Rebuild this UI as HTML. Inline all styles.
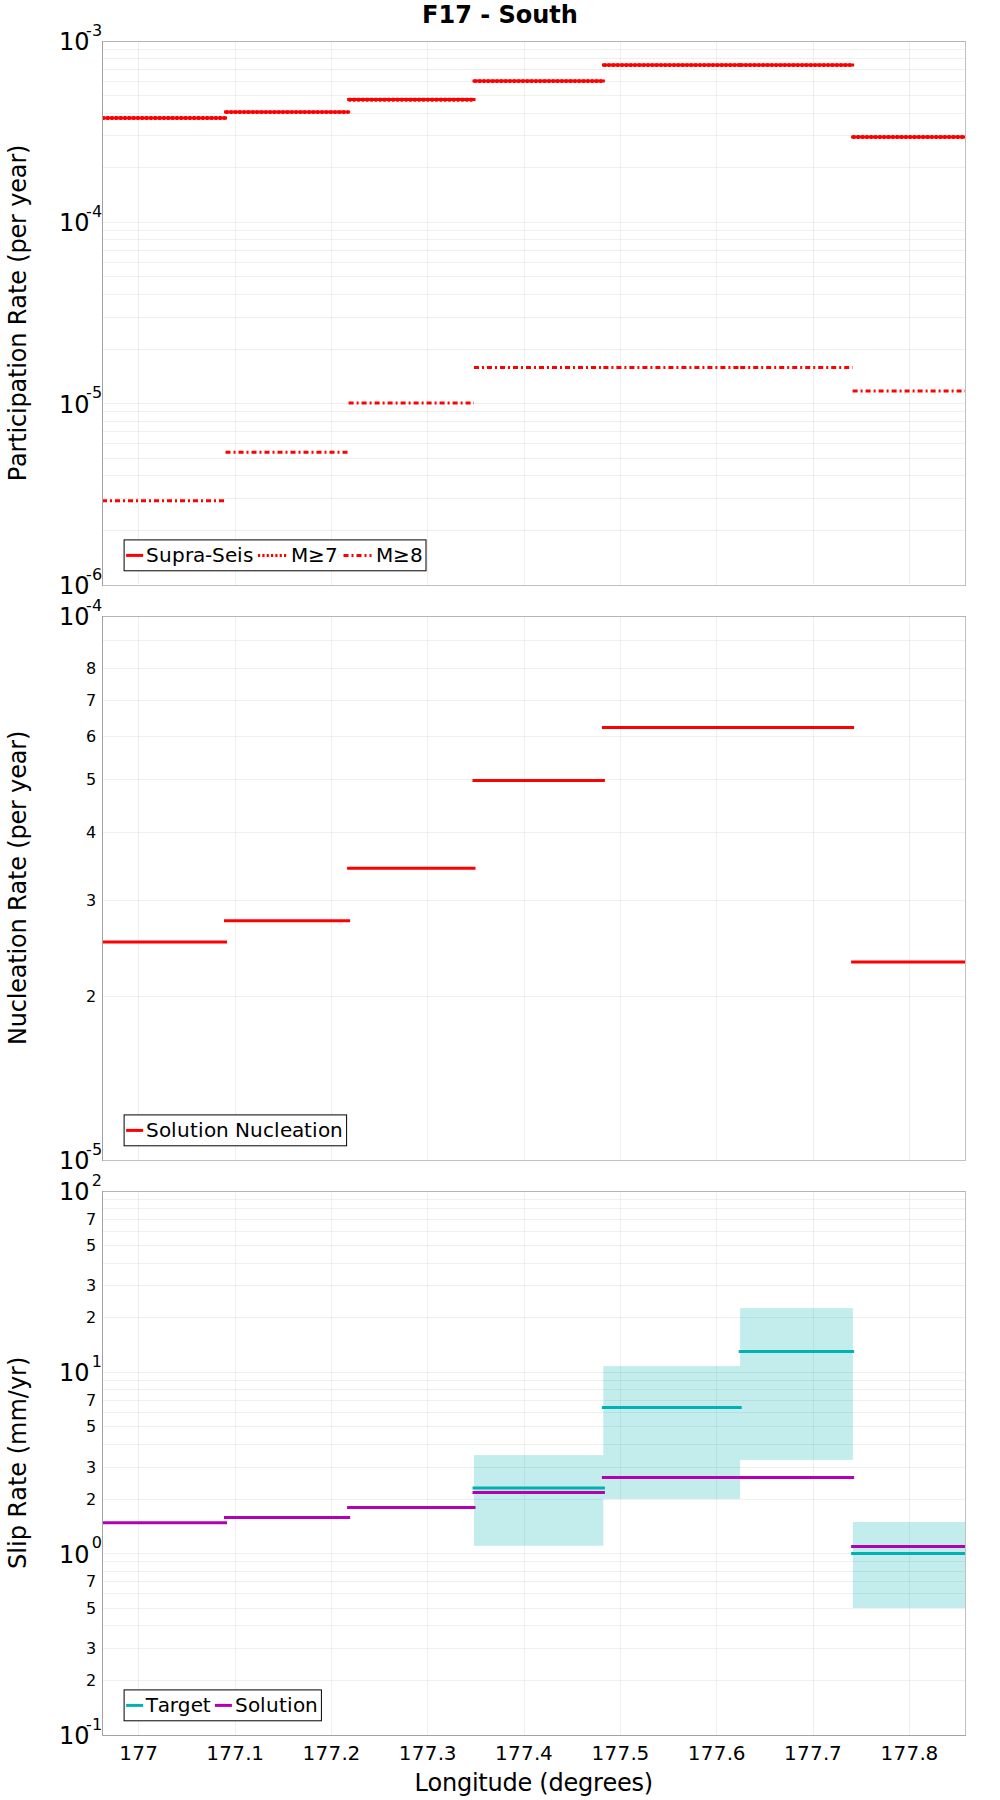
<!DOCTYPE html>
<html lang="en"><head><meta charset="utf-8"><title>F17 - South</title>
<style>html,body{margin:0;padding:0;background:#fff}svg{display:block}text{font-family:"DejaVu Sans","Liberation Sans",sans-serif;fill:#000;font-kerning:none}.g{stroke:#000;stroke-opacity:.062;stroke-width:1;shape-rendering:crispEdges}.b{stroke:#c0c0c0;stroke-width:1;fill:none;shape-rendering:crispEdges}.ax{stroke:#a2a2a2;stroke-width:1;shape-rendering:crispEdges}.t16{font-size:16px;text-anchor:end}.t24{font-size:24px}.t20{font-size:20px}.sup{font-size:16px}</style></head><body>
<svg width="1000" height="1800" viewBox="0 0 1000 1800">
<rect width="1000" height="1800" fill="#fff"/>
<text x="500" y="23" text-anchor="middle" style="font-size:24px;font-weight:bold">F17 - South</text>
<clipPath id="c0"><rect x="102.0" y="41" width="864.0" height="545"/></clipPath>
<g class="g">
<line x1="138.5" y1="42" x2="138.5" y2="585"/>
<line x1="235.5" y1="42" x2="235.5" y2="585"/>
<line x1="331.5" y1="42" x2="331.5" y2="585"/>
<line x1="427.5" y1="42" x2="427.5" y2="585"/>
<line x1="524.5" y1="42" x2="524.5" y2="585"/>
<line x1="620.5" y1="42" x2="620.5" y2="585"/>
<line x1="716.5" y1="42" x2="716.5" y2="585"/>
<line x1="813.5" y1="42" x2="813.5" y2="585"/>
<line x1="909.5" y1="42" x2="909.5" y2="585"/>
<line x1="103.0" y1="530.5" x2="965.0" y2="530.5"/>
<line x1="103.0" y1="498.5" x2="965.0" y2="498.5"/>
<line x1="103.0" y1="475.5" x2="965.0" y2="475.5"/>
<line x1="103.0" y1="458.5" x2="965.0" y2="458.5"/>
<line x1="103.0" y1="443.5" x2="965.0" y2="443.5"/>
<line x1="103.0" y1="431.5" x2="965.0" y2="431.5"/>
<line x1="103.0" y1="421.5" x2="965.0" y2="421.5"/>
<line x1="103.0" y1="411.5" x2="965.0" y2="411.5"/>
<line x1="103.0" y1="403.5" x2="965.0" y2="403.5"/>
<line x1="103.0" y1="349.5" x2="965.0" y2="349.5"/>
<line x1="103.0" y1="317.5" x2="965.0" y2="317.5"/>
<line x1="103.0" y1="294.5" x2="965.0" y2="294.5"/>
<line x1="103.0" y1="276.5" x2="965.0" y2="276.5"/>
<line x1="103.0" y1="262.5" x2="965.0" y2="262.5"/>
<line x1="103.0" y1="250.5" x2="965.0" y2="250.5"/>
<line x1="103.0" y1="239.5" x2="965.0" y2="239.5"/>
<line x1="103.0" y1="230.5" x2="965.0" y2="230.5"/>
<line x1="103.0" y1="222.5" x2="965.0" y2="222.5"/>
<line x1="103.0" y1="167.5" x2="965.0" y2="167.5"/>
<line x1="103.0" y1="135.5" x2="965.0" y2="135.5"/>
<line x1="103.0" y1="113.5" x2="965.0" y2="113.5"/>
<line x1="103.0" y1="95.5" x2="965.0" y2="95.5"/>
<line x1="103.0" y1="81.5" x2="965.0" y2="81.5"/>
<line x1="103.0" y1="69.5" x2="965.0" y2="69.5"/>
<line x1="103.0" y1="58.5" x2="965.0" y2="58.5"/>
<line x1="103.0" y1="49.5" x2="965.0" y2="49.5"/>
</g>
<g clip-path="url(#c0)">
<line x1="102.0" y1="117.9" x2="225.5" y2="117.9" stroke="#ff0000" stroke-width="3" stroke-linecap="square"/>
<line x1="225.5" y1="112.0" x2="348.6" y2="112.0" stroke="#ff0000" stroke-width="3" stroke-linecap="square"/>
<line x1="348.6" y1="99.6" x2="474.0" y2="99.6" stroke="#ff0000" stroke-width="3" stroke-linecap="square"/>
<line x1="474.0" y1="81.0" x2="603.4" y2="81.0" stroke="#ff0000" stroke-width="3" stroke-linecap="square"/>
<line x1="603.4" y1="65.0" x2="740.2" y2="65.0" stroke="#ff0000" stroke-width="3" stroke-linecap="square"/>
<line x1="740.2" y1="65.0" x2="852.6" y2="65.0" stroke="#ff0000" stroke-width="3" stroke-linecap="square"/>
<line x1="852.6" y1="136.9" x2="965.0" y2="136.9" stroke="#ff0000" stroke-width="3" stroke-linecap="square"/>
<line x1="102.0" y1="118.05000000000001" x2="225.5" y2="118.05000000000001" stroke="#ff0000" stroke-width="3.9" stroke-linecap="butt" stroke-dasharray="2.6 1.73"/>
<line x1="225.5" y1="112.15" x2="348.6" y2="112.15" stroke="#ff0000" stroke-width="3.9" stroke-linecap="butt" stroke-dasharray="2.6 1.73"/>
<line x1="348.6" y1="99.75" x2="474.0" y2="99.75" stroke="#ff0000" stroke-width="3.9" stroke-linecap="butt" stroke-dasharray="2.6 1.73"/>
<line x1="474.0" y1="81.15" x2="603.4" y2="81.15" stroke="#ff0000" stroke-width="3.9" stroke-linecap="butt" stroke-dasharray="2.6 1.73"/>
<line x1="603.4" y1="65.15" x2="740.2" y2="65.15" stroke="#ff0000" stroke-width="3.9" stroke-linecap="butt" stroke-dasharray="2.6 1.73"/>
<line x1="740.2" y1="65.15" x2="852.6" y2="65.15" stroke="#ff0000" stroke-width="3.9" stroke-linecap="butt" stroke-dasharray="2.6 1.73"/>
<line x1="852.6" y1="137.05" x2="965.0" y2="137.05" stroke="#ff0000" stroke-width="3.9" stroke-linecap="butt" stroke-dasharray="2.6 1.73"/>
<line x1="102.0" y1="500.7" x2="225.5" y2="500.7" stroke="#ff0000" stroke-width="3" stroke-linecap="butt" stroke-dasharray="5 3 2 3"/>
<line x1="225.5" y1="452.3" x2="348.6" y2="452.3" stroke="#ff0000" stroke-width="3" stroke-linecap="butt" stroke-dasharray="5 3 2 3"/>
<line x1="348.6" y1="402.9" x2="474.0" y2="402.9" stroke="#ff0000" stroke-width="3" stroke-linecap="butt" stroke-dasharray="5 3 2 3"/>
<line x1="474.0" y1="367.5" x2="603.4" y2="367.5" stroke="#ff0000" stroke-width="3" stroke-linecap="butt" stroke-dasharray="5 3 2 3"/>
<line x1="603.4" y1="367.5" x2="740.2" y2="367.5" stroke="#ff0000" stroke-width="3" stroke-linecap="butt" stroke-dasharray="5 3 2 3"/>
<line x1="740.2" y1="367.5" x2="852.6" y2="367.5" stroke="#ff0000" stroke-width="3" stroke-linecap="butt" stroke-dasharray="5 3 2 3"/>
<line x1="852.6" y1="391.0" x2="965.0" y2="391.0" stroke="#ff0000" stroke-width="3" stroke-linecap="butt" stroke-dasharray="5 3 2 3"/>
</g>
<rect class="b" x="102.5" y="41.5" width="863.0" height="544"/>
<line class="g" x1="103.0" y1="41.5" x2="966.0" y2="41.5"/>
<line class="ax" x1="102.5" y1="41" x2="102.5" y2="586"/>
<text class="t24" x="59.1" y="594.0">10</text>
<text class="sup" x="86.1 92.1" y="580.2">-6</text>
<text class="t24" x="59.1" y="413.0">10</text>
<text class="sup" x="86.1 92.1" y="397.8">-5</text>
<text class="t24" x="59.1" y="231.0">10</text>
<text class="sup" x="86.1 92.1" y="216.8">-4</text>
<text class="t24" x="59.1" y="50.0">10</text>
<text class="sup" x="86.1 92.1" y="36.2">-3</text>
<rect x="123.6" y="539.4" width="302.9" height="31.899999999999977" fill="#fff" fill-opacity=".9"/>
<rect x="124.1" y="539.9" width="301.9" height="30.899999999999977" fill="none" stroke="#000" stroke-width="1"/>
<line x1="127.6" y1="555.4" x2="141.6" y2="555.4" stroke="#ff0000" stroke-width="3" stroke-linecap="square"/>
<text class="t20" x="145.9 158.9 171.9 184.9 192.9 204.9 211.9 224.9 236.9 242.9" y="561.6">Supra-Seis</text>
<line x1="258" y1="555.4" x2="286.3" y2="555.4" stroke="#ff0000" stroke-width="3" stroke-dasharray="2.2 2.13"/>
<text class="t20" x="290.9 307.9 324.9" y="561.6">M≥7</text>
<line x1="343.5" y1="555.4" x2="371.5" y2="555.4" stroke="#ff0000" stroke-width="3" stroke-dasharray="5 3 2 3"/>
<text class="t20" x="376 393 410" y="561.6">M≥8</text>
<text class="t24" text-anchor="middle" transform="translate(26.1,313) rotate(-90)" style="letter-spacing:-0.168px">Participation Rate (per year)</text>
<clipPath id="c1"><rect x="102.0" y="616" width="864.0" height="545"/></clipPath>
<g class="g">
<line x1="138.5" y1="617" x2="138.5" y2="1160"/>
<line x1="235.5" y1="617" x2="235.5" y2="1160"/>
<line x1="331.5" y1="617" x2="331.5" y2="1160"/>
<line x1="427.5" y1="617" x2="427.5" y2="1160"/>
<line x1="524.5" y1="617" x2="524.5" y2="1160"/>
<line x1="620.5" y1="617" x2="620.5" y2="1160"/>
<line x1="716.5" y1="617" x2="716.5" y2="1160"/>
<line x1="813.5" y1="617" x2="813.5" y2="1160"/>
<line x1="909.5" y1="617" x2="909.5" y2="1160"/>
<line x1="103.0" y1="996.5" x2="965.0" y2="996.5"/>
<line x1="103.0" y1="900.5" x2="965.0" y2="900.5"/>
<line x1="103.0" y1="832.5" x2="965.0" y2="832.5"/>
<line x1="103.0" y1="779.5" x2="965.0" y2="779.5"/>
<line x1="103.0" y1="736.5" x2="965.0" y2="736.5"/>
<line x1="103.0" y1="700.5" x2="965.0" y2="700.5"/>
<line x1="103.0" y1="668.5" x2="965.0" y2="668.5"/>
<line x1="103.0" y1="640.5" x2="965.0" y2="640.5"/>
</g>
<g clip-path="url(#c1)">
<line x1="102.0" y1="941.9" x2="225.5" y2="941.9" stroke="#ff0000" stroke-width="3" stroke-linecap="square"/>
<line x1="225.5" y1="920.85" x2="348.6" y2="920.85" stroke="#ff0000" stroke-width="3" stroke-linecap="square"/>
<line x1="348.6" y1="868.3" x2="474.0" y2="868.3" stroke="#ff0000" stroke-width="3" stroke-linecap="square"/>
<line x1="474.0" y1="780.5" x2="603.4" y2="780.5" stroke="#ff0000" stroke-width="3" stroke-linecap="square"/>
<line x1="603.4" y1="727.5" x2="740.2" y2="727.5" stroke="#ff0000" stroke-width="3" stroke-linecap="square"/>
<line x1="740.2" y1="727.5" x2="852.6" y2="727.5" stroke="#ff0000" stroke-width="3" stroke-linecap="square"/>
<line x1="852.6" y1="962.0" x2="965.0" y2="962.0" stroke="#ff0000" stroke-width="3" stroke-linecap="square"/>
</g>
<rect class="b" x="102.5" y="616.5" width="863.0" height="544"/>
<line class="g" x1="103.0" y1="616.5" x2="966.0" y2="616.5"/>
<line class="ax" x1="102.5" y1="616" x2="102.5" y2="1161"/>
<text class="t24" x="59.1" y="1169.0">10</text>
<text class="sup" x="86.1 92.1" y="1155.2">-5</text>
<text class="t16" x="96.2" y="1002.4">2</text>
<text class="t16" x="96.2" y="906.4">3</text>
<text class="t16" x="96.2" y="838.4">4</text>
<text class="t16" x="96.2" y="785.4">5</text>
<text class="t16" x="96.2" y="742.4">6</text>
<text class="t16" x="96.2" y="706.4">7</text>
<text class="t16" x="96.2" y="674.4">8</text>
<text class="t24" x="59.1" y="625.0">10</text>
<text class="sup" x="86.1 92.1" y="611.2">-4</text>
<rect x="123.6" y="1114.4" width="223.50000000000003" height="31.899999999999864" fill="#fff" fill-opacity=".9"/>
<rect x="124.1" y="1114.9" width="222.50000000000003" height="30.899999999999864" fill="none" stroke="#000" stroke-width="1"/>
<line x1="127.6" y1="1130.4" x2="141.6" y2="1130.4" stroke="#ff0000" stroke-width="3" stroke-linecap="square"/>
<text class="t20" x="145.9 158.9 170.9 176.9 189.9 197.9 203.9 215.9 228.9 234.9 249.9 262.9 273.9 279.9 291.9 303.9 311.9 317.9 329.9" y="1136.6">Solution Nucleation</text>
<text class="t24" text-anchor="middle" transform="translate(26.1,888) rotate(-90)" style="letter-spacing:-0.188px">Nucleation Rate (per year)</text>
<clipPath id="c2"><rect x="102.0" y="1191" width="864.0" height="545"/></clipPath>
<g class="g">
<line x1="138.5" y1="1192" x2="138.5" y2="1735"/>
<line x1="235.5" y1="1192" x2="235.5" y2="1735"/>
<line x1="331.5" y1="1192" x2="331.5" y2="1735"/>
<line x1="427.5" y1="1192" x2="427.5" y2="1735"/>
<line x1="524.5" y1="1192" x2="524.5" y2="1735"/>
<line x1="620.5" y1="1192" x2="620.5" y2="1735"/>
<line x1="716.5" y1="1192" x2="716.5" y2="1735"/>
<line x1="813.5" y1="1192" x2="813.5" y2="1735"/>
<line x1="909.5" y1="1192" x2="909.5" y2="1735"/>
<line x1="103.0" y1="1680.5" x2="965.0" y2="1680.5"/>
<line x1="103.0" y1="1648.5" x2="965.0" y2="1648.5"/>
<line x1="103.0" y1="1625.5" x2="965.0" y2="1625.5"/>
<line x1="103.0" y1="1608.5" x2="965.0" y2="1608.5"/>
<line x1="103.0" y1="1593.5" x2="965.0" y2="1593.5"/>
<line x1="103.0" y1="1581.5" x2="965.0" y2="1581.5"/>
<line x1="103.0" y1="1571.5" x2="965.0" y2="1571.5"/>
<line x1="103.0" y1="1561.5" x2="965.0" y2="1561.5"/>
<line x1="103.0" y1="1553.5" x2="965.0" y2="1553.5"/>
<line x1="103.0" y1="1499.5" x2="965.0" y2="1499.5"/>
<line x1="103.0" y1="1467.5" x2="965.0" y2="1467.5"/>
<line x1="103.0" y1="1444.5" x2="965.0" y2="1444.5"/>
<line x1="103.0" y1="1426.5" x2="965.0" y2="1426.5"/>
<line x1="103.0" y1="1412.5" x2="965.0" y2="1412.5"/>
<line x1="103.0" y1="1400.5" x2="965.0" y2="1400.5"/>
<line x1="103.0" y1="1389.5" x2="965.0" y2="1389.5"/>
<line x1="103.0" y1="1380.5" x2="965.0" y2="1380.5"/>
<line x1="103.0" y1="1372.5" x2="965.0" y2="1372.5"/>
<line x1="103.0" y1="1317.5" x2="965.0" y2="1317.5"/>
<line x1="103.0" y1="1285.5" x2="965.0" y2="1285.5"/>
<line x1="103.0" y1="1263.5" x2="965.0" y2="1263.5"/>
<line x1="103.0" y1="1245.5" x2="965.0" y2="1245.5"/>
<line x1="103.0" y1="1231.5" x2="965.0" y2="1231.5"/>
<line x1="103.0" y1="1219.5" x2="965.0" y2="1219.5"/>
<line x1="103.0" y1="1208.5" x2="965.0" y2="1208.5"/>
<line x1="103.0" y1="1199.5" x2="965.0" y2="1199.5"/>
</g>
<g clip-path="url(#c2)">
<rect x="474.0" y="1455.1" width="129.3" height="90.7" fill="#00b2b2" fill-opacity=".235"/>
<rect x="603.3" y="1366.1" width="136.8" height="132.8" fill="#00b2b2" fill-opacity=".235"/>
<rect x="740.1" y="1308.1" width="112.8" height="151.8" fill="#00b2b2" fill-opacity=".235"/>
<rect x="852.9" y="1522.0" width="112.6" height="86.0" fill="#00b2b2" fill-opacity=".235"/>
<line x1="474.0" y1="1488.1" x2="603.4" y2="1488.1" stroke="#00b2b2" stroke-width="3" stroke-linecap="square"/>
<line x1="603.4" y1="1407.5" x2="740.2" y2="1407.5" stroke="#00b2b2" stroke-width="3" stroke-linecap="square"/>
<line x1="740.2" y1="1351.5" x2="852.6" y2="1351.5" stroke="#00b2b2" stroke-width="3" stroke-linecap="square"/>
<line x1="852.6" y1="1553.6" x2="965.0" y2="1553.6" stroke="#00b2b2" stroke-width="3" stroke-linecap="square"/>
<line x1="102.0" y1="1522.8" x2="225.5" y2="1522.8" stroke="#b200b2" stroke-width="3" stroke-linecap="square"/>
<line x1="225.5" y1="1517.5" x2="348.6" y2="1517.5" stroke="#b200b2" stroke-width="3" stroke-linecap="square"/>
<line x1="348.6" y1="1507.5" x2="474.0" y2="1507.5" stroke="#b200b2" stroke-width="3" stroke-linecap="square"/>
<line x1="474.0" y1="1492.6" x2="603.4" y2="1492.6" stroke="#b200b2" stroke-width="3" stroke-linecap="square"/>
<line x1="603.4" y1="1477.5" x2="740.2" y2="1477.5" stroke="#b200b2" stroke-width="3" stroke-linecap="square"/>
<line x1="740.2" y1="1477.5" x2="852.6" y2="1477.5" stroke="#b200b2" stroke-width="3" stroke-linecap="square"/>
<line x1="852.6" y1="1546.4" x2="965.0" y2="1546.4" stroke="#b200b2" stroke-width="3" stroke-linecap="square"/>
</g>
<rect class="b" x="102.5" y="1191.5" width="863.0" height="544"/>
<line class="g" x1="103.0" y1="1191.5" x2="966.0" y2="1191.5"/>
<line class="ax" x1="102.5" y1="1191" x2="102.5" y2="1736"/>
<line class="ax" x1="102.0" y1="1735.5" x2="966.0" y2="1735.5"/>
<text class="t24" x="59.1" y="1744.0">10</text>
<text class="sup" x="86.1 92.1" y="1730.2">-1</text>
<text class="t16" x="96.2" y="1686.4">2</text>
<text class="t16" x="96.2" y="1654.4">3</text>
<text class="t16" x="96.2" y="1614.4">5</text>
<text class="t16" x="96.2" y="1587.4">7</text>
<text class="t24" x="59.1" y="1563.0">10</text>
<text class="sup" x="91.7" y="1547.8">0</text>
<text class="t16" x="96.2" y="1505.4">2</text>
<text class="t16" x="96.2" y="1473.4">3</text>
<text class="t16" x="96.2" y="1432.4">5</text>
<text class="t16" x="96.2" y="1406.4">7</text>
<text class="t24" x="59.1" y="1381.0">10</text>
<text class="sup" x="91.7" y="1366.8">1</text>
<text class="t16" x="96.2" y="1323.4">2</text>
<text class="t16" x="96.2" y="1291.4">3</text>
<text class="t16" x="96.2" y="1251.4">5</text>
<text class="t16" x="96.2" y="1225.4">7</text>
<text class="t24" x="59.1" y="1200.0">10</text>
<text class="sup" x="91.7" y="1186.2">2</text>
<rect x="123.6" y="1689.4" width="198.29999999999998" height="31.899999999999864" fill="#fff" fill-opacity=".9"/>
<rect x="124.1" y="1689.9" width="197.29999999999998" height="30.899999999999864" fill="none" stroke="#000" stroke-width="1"/>
<line x1="127.6" y1="1705.4" x2="141.6" y2="1705.4" stroke="#00b2b2" stroke-width="3" stroke-linecap="square"/>
<text class="t20" x="145.8 157.8 169.8 177.8 190.8 202.8" y="1711.6">Target</text>
<line x1="216.4" y1="1705.4" x2="230.4" y2="1705.4" stroke="#b200b2" stroke-width="3" stroke-linecap="square"/>
<text class="t20" x="234.9 247.9 259.9 265.9 278.9 286.9 292.9 304.9" y="1711.6">Solution</text>
<text class="t24" text-anchor="middle" transform="translate(26.1,1462.8) rotate(-90)" style="letter-spacing:0px">Slip Rate (mm/yr)</text>
<text class="t20" x="119.3 132.3 145.3" y="1759.7">177</text>
<text class="t20" x="206.13 219.13 232.13 245.13 251.13" y="1759.7">177.1</text>
<text class="t20" x="302.46 315.46 328.46 341.46 347.46" y="1759.7">177.2</text>
<text class="t20" x="398.79 411.79 424.79 437.79 443.79" y="1759.7">177.3</text>
<text class="t20" x="495.12 508.12 521.12 534.12 540.12" y="1759.7">177.4</text>
<text class="t20" x="591.45 604.45 617.45 630.45 636.45" y="1759.7">177.5</text>
<text class="t20" x="687.78 700.78 713.78 726.78 732.78" y="1759.7">177.6</text>
<text class="t20" x="784.11 797.11 810.11 823.11 829.11" y="1759.7">177.7</text>
<text class="t20" x="880.44 893.44 906.44 919.44 925.44" y="1759.7">177.8</text>
<text class="t24" text-anchor="middle" x="533.7" y="1790.6" style="letter-spacing:-0.25px">Longitude (degrees)</text>
</svg></body></html>
